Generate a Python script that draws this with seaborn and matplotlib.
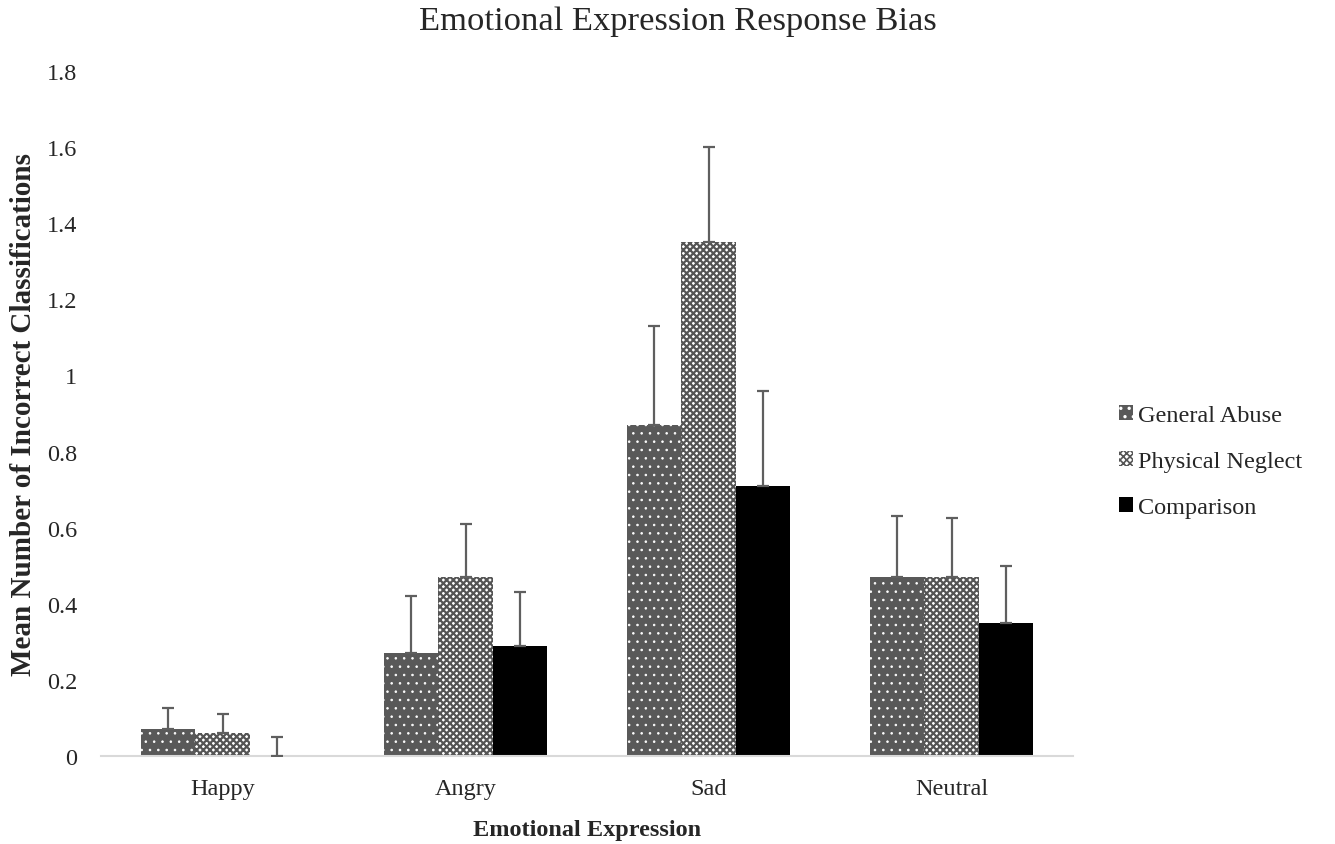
import numpy as np
import pandas as pd
import matplotlib
matplotlib.use("Agg")
import matplotlib.pyplot as plt
import seaborn as sns

categories = ["Happy", "Angry", "Sad", "Neutral"]
groups = ["General Abuse", "Physical Neglect", "Comparison"]
general_abuse = [0.07, 0.27, 0.87, 0.47]
physical_neglect = [0.06, 0.47, 1.35, 0.47]
comparison = [0.00, 0.29, 0.71, 0.35]
err_general_abuse = [0.055, 0.15, 0.26, 0.16]
err_physical_neglect = [0.05, 0.14, 0.25, 0.155]
err_comparison = [0.05, 0.14, 0.25, 0.15]
yticks = [0, 0.2, 0.4, 0.6, 0.8, 1, 1.2, 1.4, 1.6, 1.8]
ytick_labels = ["0", "0.2", "0.4", "0.6", "0.8", "1", "1.2", "1.4", "1.6", "1.8"]

rows = []
for g, vals, errs in zip(groups, [general_abuse, physical_neglect, comparison],
                         [err_general_abuse, err_physical_neglect, err_comparison]):
    for c, v, e in zip(categories, vals, errs):
        rows.append({"Emotion": c, "Group": g, "Mean": v, "Err": e})
df = pd.DataFrame(rows)

sns.set_theme(style="white")
plt.rcParams["font.family"] = ["Liberation Serif", "DejaVu Serif"]
plt.rcParams["hatch.linewidth"] = 1.2

fig = plt.figure(figsize=(13.35, 8.45), dpi=100)
ax = fig.add_axes([101 / 1335, 1 - 757 / 845, 972 / 1335, 685 / 845])

palette = {"General Abuse": "#595959", "Physical Neglect": "#ffffff", "Comparison": "#000000"}
sns.barplot(data=df, x="Emotion", y="Mean", hue="Group", order=categories,
            hue_order=groups, palette=palette, errorbar=None, width=0.667,
            saturation=1, legend=False, ax=ax, linewidth=0)

styles = {
    "General Abuse": dict(face="#595959", hatch_col="#ffffff", hatch="..", hlw=0.6),
    "Physical Neglect": dict(face="#ffffff", hatch_col="#555555", hatch="xxxxx", hlw=1.6),
    "Comparison": dict(face="#000000", hatch_col="#000000", hatch=None, hlw=1.0),
}
err_map = {"General Abuse": err_general_abuse, "Physical Neglect": err_physical_neglect,
           "Comparison": err_comparison}
val_map = {"General Abuse": general_abuse, "Physical Neglect": physical_neglect,
           "Comparison": comparison}

for cont, g in zip(ax.containers, groups):
    st = styles[g]
    xs = []
    for p in cont.patches:
        p.set_facecolor(st["face"])
        p.set_edgecolor(st["hatch_col"])
        p.set_linewidth(0)
        if st["hatch"]:
            p.set_hatch(st["hatch"])
            if hasattr(p, "set_hatch_linewidth"):
                p.set_hatch_linewidth(st["hlw"])
        xs.append(p.get_x() + p.get_width() / 2)
    vals = np.array(val_map[g])
    errs = np.array(err_map[g])
    ax.errorbar(xs, vals, yerr=[np.zeros_like(errs), errs], fmt="none",
                ecolor="#5f5f5f", elinewidth=1.6, capsize=4.3, capthick=1.6, zorder=3)

ax.set_ylim(0, 1.8)
ax.set_xlim(-0.5, 3.5)
ax.set_yticks(yticks)
ax.set_yticklabels(ytick_labels)
ax.tick_params(axis="y", length=0, labelsize=17.5, pad=17)
ax.tick_params(axis="x", length=0, labelsize=17.5, pad=16)
for s in ["top", "right", "left"]:
    ax.spines[s].set_visible(False)
ax.spines["bottom"].set_color("#d9d9d9")
ax.spines["bottom"].set_linewidth(1.5)

ax.set_xlabel("Emotional Expression", fontsize=17.5, fontweight="bold", labelpad=14.5)
ax.set_ylabel("Mean Number of Incorrect Classifications", fontsize=21,
              fontweight="bold")
ax.yaxis.set_label_coords(-(101 - 37) / 972, 0.5)
fig.suptitle("Emotional Expression Response Bias", fontsize=24.8, y=0.992, x=0.508,
             va="top")

leg = ax.legend(ax.containers, groups, loc="center left",
                bbox_to_anchor=(1.037, 0.430), borderaxespad=0,
                frameon=False, fontsize=17.5, handlelength=0.58, handleheight=0.58,
                handletextpad=0.22, labelspacing=1.02)

fig.savefig("out.png", dpi=100)
